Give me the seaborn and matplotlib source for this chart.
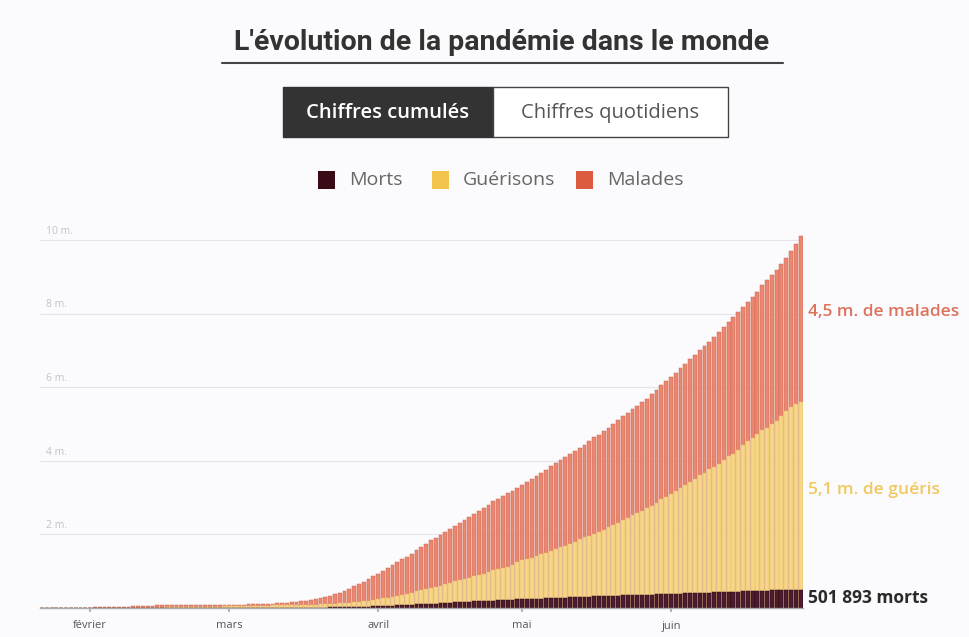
import numpy as np
import pandas as pd
import matplotlib.pyplot as plt
from matplotlib.patches import Rectangle
from matplotlib.lines import Line2D
import seaborn as sns

# Daily data, 22 Jan -> 28 Jun 2020, in thousands
confirmed = [
    0.6, 0.7, 0.9, 1.4, 2.1, 2.9, 5.6, 6.2, 8.2, 9.9,
    12.0, 16.8, 19.9, 23.7, 27.6, 30.8, 34.4, 37.1, 40.2, 42.8, 44.8, 45.2, 60.4, 66.9, 69.0,
    71.2, 73.3, 75.2, 75.7, 76.2, 76.8, 78.6, 78.9, 79.6, 80.4, 81.4, 82.7, 84.1, 86.0,
    88.4, 90.3, 92.8, 95.1, 97.9, 101.8, 105.8, 109.8, 113.6, 118.6, 125.9, 128.3, 145.2, 156.1,
    167.4, 181.5, 197.1, 214.9, 242.7, 272.2, 304.5, 337.0, 378.2, 418.0, 467.7, 529.6, 593.3,
    660.7, 720.1, 782.4, 857.5,
    932.6, 1013, 1096, 1176, 1250, 1321, 1396, 1480, 1565, 1657, 1735, 1835, 1905, 1976, 2056,
    2152, 2240, 2317, 2401, 2472, 2549, 2623, 2708, 2811, 2897, 2972, 3041, 3117, 3193, 3256,
    3343, 3427, 3506, 3583, 3662, 3755, 3846, 3938, 4024, 4101, 4177, 4261, 4347, 4442, 4542,
    4634, 4713, 4801, 4897, 4996, 5102, 5210, 5310, 5408, 5495, 5589, 5691, 5808, 5930, 6059, 6166,
    6265, 6380, 6510, 6628, 6758, 6887, 7004, 7108, 7237, 7373, 7510, 7639, 7773, 7904, 8031,
    8172, 8315, 8455, 8599, 8770, 8908, 9041, 9191, 9351, 9520, 9698, 9900, 10100,
]
deaths = [
    0.017, 0.018, 0.026, 0.042, 0.056, 0.082, 0.131, 0.133, 0.171, 0.213,
    0.259, 0.362, 0.426, 0.492, 0.564, 0.634, 0.719, 0.806, 0.906, 1.013, 1.113, 1.118, 1.371,
    1.523, 1.666, 1.770, 1.868, 2.007, 2.122, 2.247, 2.251, 2.458, 2.469, 2.629, 2.708, 2.770,
    2.814, 2.872, 2.941,
    2.996, 3.085, 3.160, 3.254, 3.348, 3.460, 3.558, 3.803, 3.996, 4.262, 4.615, 4.720, 5.404,
    5.819, 6.440, 7.126, 7.905, 8.733, 9.867, 11.30, 13.01, 14.62, 16.50, 18.61, 21.18, 23.97,
    27.20, 30.65, 33.93, 37.58, 42.11,
    46.81, 52.98, 58.79, 64.61, 69.42, 74.57, 81.87, 88.34, 95.46, 102.5, 108.5, 114.1, 119.5,
    125.9, 134.2, 143.8, 153.8, 159.5, 165.0, 169.9, 177.2, 183.8, 190.5, 197.2, 202.8, 206.6,
    211.2, 217.7, 228.3, 234.1,
    239.6, 244.9, 248.6, 252.4, 258.0, 264.9, 270.5, 275.8, 280.1, 283.8, 287.4, 293.1, 298.4,
    303.6, 308.9, 313.2, 316.5, 320.1, 324.8, 329.7, 334.9, 340.0, 344.3, 347.4, 349.5, 354.5,
    359.8, 364.8, 369.2, 373.5, 376.7,
    380.0, 384.8, 390.5, 395.8, 400.7, 405.0, 408.2, 411.5, 416.4, 421.9, 426.8, 431.6, 436.3,
    439.9, 443.7, 450.5, 455.8, 461.3, 465.9, 470.5, 474.1, 478.0, 483.5, 490.5, 495.2, 497.3,
    499.9, 501.893,
]
recovered = [
    0.028, 0.030, 0.036, 0.039, 0.052, 0.061, 0.107, 0.126, 0.143, 0.222,
    0.284, 0.472, 0.623, 0.852, 1.124, 1.487, 2.011, 2.616, 3.244, 3.946, 4.683, 5.150, 6.295,
    8.058, 9.395, 10.87, 12.58, 14.35, 16.12, 18.18, 18.89, 22.89, 23.39, 25.23, 27.91, 30.38,
    33.28, 36.71, 39.78,
    42.72, 45.60, 48.23, 51.17, 53.80, 55.87, 58.36, 60.69, 62.49, 64.40, 67.00, 68.32, 70.25,
    72.62, 76.03, 78.09, 80.84, 83.31, 84.96, 87.40, 91.68, 97.88, 98.33, 107.9, 113.8, 122.2,
    130.9, 139.4, 149.1, 164.6, 177.9,
    193.2, 210.2, 225.8, 246.1, 260.0, 276.5, 300.0, 328.7, 353.9, 376.1, 402.1, 421.7, 448.7,
    474.3, 511.0, 542.1, 568.3, 592.3, 623.9, 645.7, 680.0, 709.6, 738.9, 789.4, 817.6, 845.9,
    873.9, 906.0, 948.7, 1014,
    1053, 1094, 1119, 1159, 1207, 1238, 1285, 1330, 1376, 1410, 1460, 1494, 1583, 1618, 1656,
    1703, 1745, 1802, 1871, 1924, 1985, 2054, 2112, 2168, 2221, 2290, 2353, 2412, 2495, 2583, 2650,
    2728, 2789, 2872, 2944, 3020, 3094, 3194, 3262, 3352, 3419, 3497, 3590, 3683, 3754, 3839,
    3976, 4081, 4165, 4271, 4357, 4429, 4514, 4612, 4728, 4846, 4952, 5035, 5100,
]

month_ticks = [10, 39, 70, 100, 131]  # 1er février, mars, avril, mai, juin
month_labels = ['février', 'mars', 'avril', 'mai', 'juin']
y_grid = [2000, 4000, 6000, 8000, 10000]
y_labels = ['2 m.', '4 m.', '6 m.', '8 m.', '10 m.']

df = pd.DataFrame({'jour': np.arange(len(confirmed)),
                   'total': confirmed,
                   'morts': deaths,
                   'gueris': recovered})
df['morts_gueris'] = df['morts'] + df['gueris']

bg = '#fbfbfd'
c_malades, c_gueris, c_morts = '#ea8771', '#f7d688', '#4d1c2e'

sns.set_theme(style='white')
plt.rcParams['font.family'] = ['Open Sans', 'DejaVu Sans']

fig = plt.figure(figsize=(9.7, 6.37), dpi=100, facecolor=bg)
ax = fig.add_axes([40 / 970, 1 - 608 / 637, 763 / 970, 379 / 637], facecolor=bg)

# gridlines behind bars
for v, lab in zip(y_grid, y_labels):
    ax.axhline(v, color='#e4e4ea', lw=0.8, zorder=0)
    ax.text(0.008, v + 90, lab, transform=ax.get_yaxis_transform(),
            color='#c2c2c8', fontsize=7.5, va='bottom', ha='left')

# stacked bars: total, then guéris + morts, then morts
sns.barplot(data=df, x='jour', y='total', color=c_malades, saturation=1, width=0.8,
            native_scale=True, errorbar=None, edgecolor='#cf6650', linewidth=0.35, ax=ax)
sns.barplot(data=df, x='jour', y='morts_gueris', color=c_gueris, saturation=1, width=0.8,
            native_scale=True, errorbar=None, edgecolor='#e6bd62', linewidth=0.35, ax=ax)
sns.barplot(data=df, x='jour', y='morts', color=c_morts, saturation=1, width=0.8,
            native_scale=True, errorbar=None, edgecolor='#2a0a16', linewidth=0.35, ax=ax)

ax.set_xlim(-0.42, 158.5)
ax.set_ylim(0, 10300)
ax.set_yticks([])
ax.set_xticks(month_ticks)
ax.set_xticklabels(month_labels, color='#555555', fontsize=8)
ax.tick_params(axis='x', length=3, color='#aaaaaa', pad=6, bottom=True)
ax.set_xlabel('')
ax.set_ylabel('')
for s in ['top', 'right', 'left']:
    ax.spines[s].set_visible(False)
ax.spines['bottom'].set_color('#aaaaaa')
ax.spines['bottom'].set_linewidth(1)

# end-of-series labels
ax.text(1.007, 8050, '4,5 m. de malades', transform=ax.get_yaxis_transform(),
        color='#dc735d', fontsize=12.5, va='center', ha='left', fontweight='semibold')
ax.text(1.007, 3200, '5,1 m. de guéris', transform=ax.get_yaxis_transform(),
        color='#f1c85e', fontsize=12.5, va='center', ha='left', fontweight='semibold')
ax.text(1.007, 270, '501 893 morts', transform=ax.get_yaxis_transform(),
        color='#2a2a2a', fontsize=12.5, va='center', ha='left', fontweight='bold')

# title + underline
fig.text(502 / 970, 1 - 43 / 637, "L'évolution de la pandémie dans le monde",
         ha='center', va='center', fontsize=20.5, fontweight='semibold', color='#333333',
         family=['Roboto', 'DejaVu Sans'])
fig.add_artist(Line2D([222 / 970, 783 / 970], [1 - 63 / 637] * 2, color='#444444', lw=1.5))

# toggle buttons
fig.add_artist(Rectangle((283 / 970, 1 - 137 / 637), 210 / 970, 50 / 637,
                         transform=fig.transFigure, facecolor='#333333', edgecolor='#333333', lw=1))
fig.add_artist(Rectangle((493 / 970, 1 - 137 / 637), 235 / 970, 50 / 637,
                         transform=fig.transFigure, facecolor='white', edgecolor='#444444', lw=1))
fig.text(388 / 970, 1 - 113 / 637, 'Chiffres cumulés', ha='center', va='center',
         fontsize=14.5, color='white', fontweight='semibold')
fig.text(610 / 970, 1 - 113 / 637, 'Chiffres quotidiens', ha='center', va='center',
         fontsize=14.5, color='#555555')

# legend
for x0, col, lab in [(318, '#3a0a16', 'Morts'), (432, '#f4c54c', 'Guérisons'), (576, '#dc5a3e', 'Malades')]:
    fig.add_artist(Rectangle((x0 / 970, 1 - 189 / 637), 17 / 970, 18 / 637,
                             transform=fig.transFigure, facecolor=col, edgecolor='none'))
    fig.text((x0 + 31) / 970, 1 - 180 / 637, lab, ha='left', va='center',
             fontsize=14, color='#666666')

fig.savefig('out.png', dpi=100, facecolor=bg)
